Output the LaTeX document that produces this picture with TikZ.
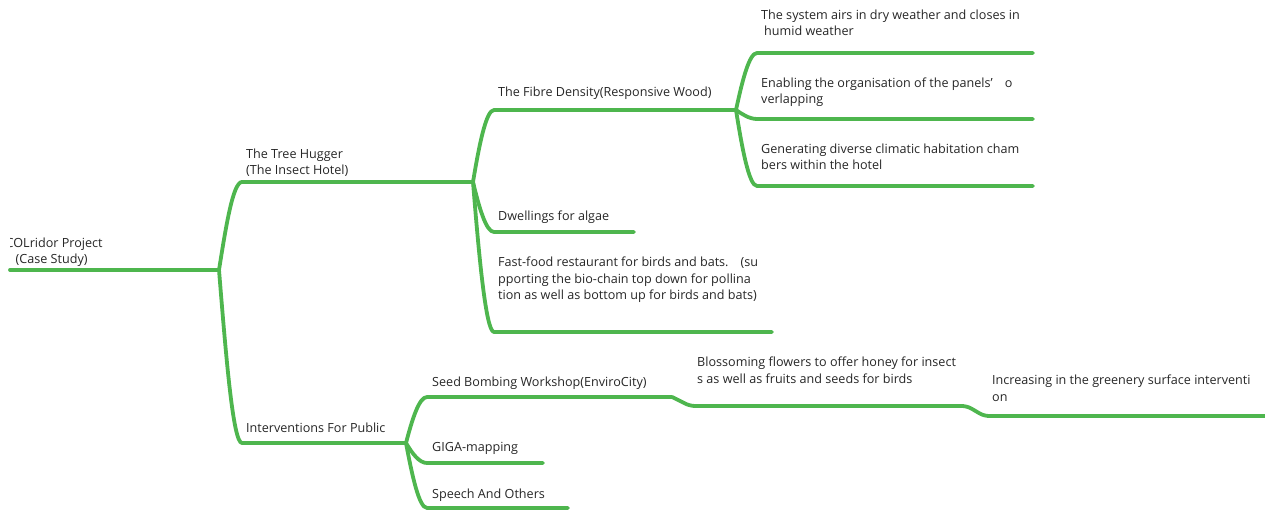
\documentclass[tikz,border=0pt]{standalone}
\usepackage{fontspec}
\setmainfont{Open Sans}
\definecolor{mapgreen}{RGB}{78,182,78}
\begin{document}
\begin{tikzpicture}[x=1pt,y=-1pt,
  branch/.style={draw=mapgreen, line width=3.8pt, line cap=round, line join=round},
  topic/.style={anchor=base west, inner sep=0pt, align=left,
    font=\fontsize{12.6}{16.6}\selectfont, text=black!85}]
\useasboundingbox (0,0) rectangle (1265,510);

% junctions and line end points
\coordinate (R0) at (10,270);
\coordinate (J0) at (219,270);
\coordinate (TH) at (242,182);
\coordinate (J1) at (473,182);
\coordinate (IP) at (242,443);
\coordinate (J3) at (406,443);
\coordinate (FD) at (494,110);
\coordinate (J2) at (736,110);
\coordinate (DW) at (494,232);
\coordinate (DWe) at (634,232);
\coordinate (FF) at (494,332);
\coordinate (FFe) at (772,332);
\coordinate (S1) at (757,53);
\coordinate (S1e) at (1033,53);
\coordinate (S2) at (757,119);
\coordinate (S2e) at (1033,119);
\coordinate (S3) at (757,186);
\coordinate (S3e) at (1033,186);
\coordinate (SB) at (427,397);
\coordinate (J4) at (672,397);
\coordinate (BL) at (690,406);
\coordinate (J5) at (967,406);
\coordinate (IN) at (984,416);
\coordinate (INe) at (1270,416);
\coordinate (GM) at (427,463);
\coordinate (GMe) at (543,463);
\coordinate (SO) at (427,508);
\coordinate (SOe) at (568,508);

% connectors
\draw[branch] (R0) -- (J0);
\draw[branch] (J0) .. controls +(7,-44) and +(-9,0) .. (TH) -- (J1);
\draw[branch] (J0) .. controls +(7,86) and +(-9,0) .. (IP) -- (J3);
\draw[branch] (J1) .. controls +(6,-36) and +(-8,0) .. (FD) -- (J2);
\draw[branch] (J1) .. controls +(6,25) and +(-8,0) .. (DW) -- (DWe);
\draw[branch] (J1) .. controls +(6,75) and +(-8,0) .. (FF) -- (FFe);
\draw[branch] (J2) .. controls +(6,-28) and +(-8,0) .. (S1) -- (S1e);
\draw[branch] (J2) .. controls +(6,4) and +(-8,0) .. (S2) -- (S2e);
\draw[branch] (J2) .. controls +(6,38) and +(-8,0) .. (S3) -- (S3e);
\draw[branch] (J3) .. controls +(6,-23) and +(-8,0) .. (SB) -- (J4);
\draw[branch, rounded corners=5pt] (J4) -- (BL) -- (J5) -- (IN) -- (INe);
\draw[branch] (J3) .. controls +(6,10) and +(-8,0) .. (GM) -- (GMe);
\draw[branch] (J3) .. controls +(6,32) and +(-8,0) .. (SO) -- (SOe);

% topic texts (anchored at the baseline of the last line)
\begin{scope}
  \clip (10.5,200) rectangle (200,280);
  \node[topic] (tRoot) at (5.5,264) {COLridor Project\\\hspace*{10pt}(Case Study)};
\end{scope}
\node[topic] (tTH) at (246,175) {The Tree Hugger\\(The Insect Hotel)};
\node[topic] (tIP) at (246,432) {Interventions For Public};
\node[topic] (tFD) at (498,97) {The Fibre Density(Responsive Wood)};
\node[topic] (tDW) at (498,221) {Dwellings for algae};
\node[topic] (tFF) at (498,300) {Fast-food restaurant for birds and bats.\hspace{12pt}(su\\pporting the bio-chain top down for pollina\\tion as well as bottom up for birds and bats)};
\node[topic] (tS1) at (761,36) {The system airs in dry weather and closes in\\\hspace*{3pt}humid weather};
\node[topic] (tS2) at (761,104) {Enabling the organisation of the panels’\hspace{12pt}o\\verlapping};
\node[topic] (tS3) at (761,170) {Generating diverse climatic habitation cham\\bers within the hotel};
\node[topic] (tSB) at (432,386) {Seed Bombing Workshop(EnviroCity)};
\node[topic] (tGM) at (432,451) {GIGA-mapping};
\node[topic] (tSO) at (432,498) {Speech And Others};
\node[topic] (tBL) at (697,383) {Blossoming flowers to offer honey for insect\\s as well as fruits and seeds for birds};
\node[topic] (tIN) at (992,401) {Increasing in the greenery surface interventi\\on};
\end{tikzpicture}
\end{document}
